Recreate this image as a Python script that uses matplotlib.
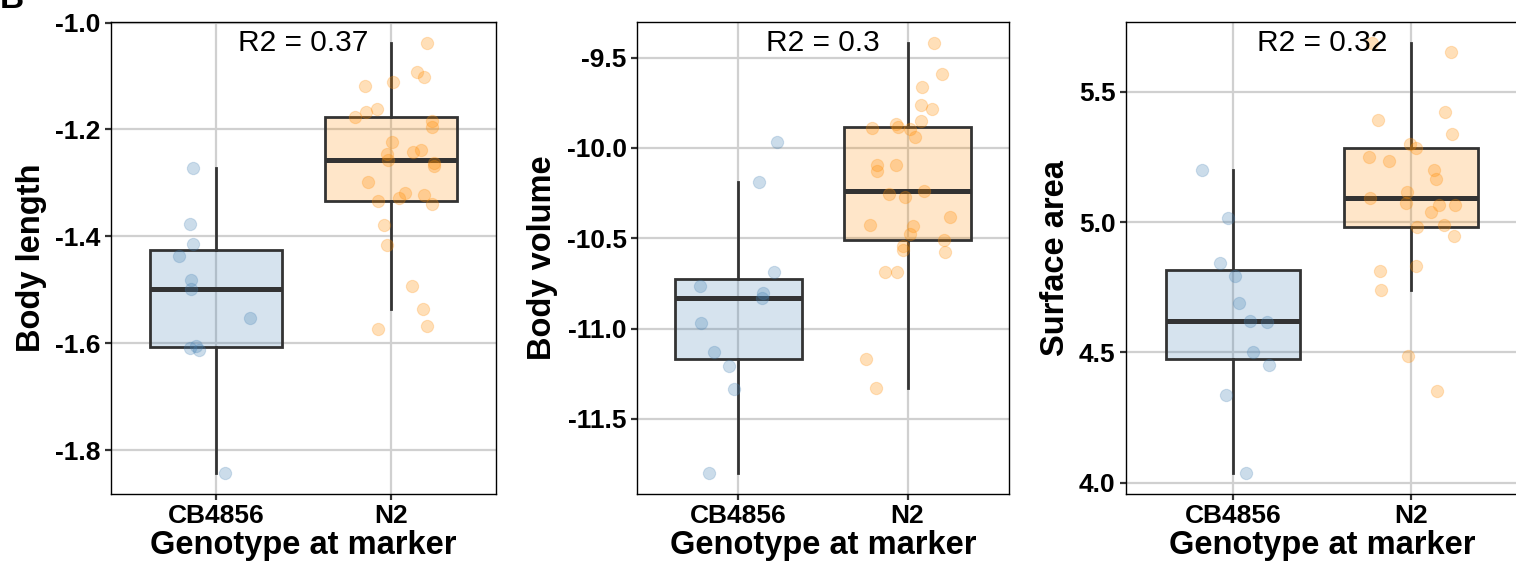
import numpy as np
import matplotlib
matplotlib.use("Agg")
import matplotlib.pyplot as plt

plt.rcParams['font.family'] = ['Liberation Sans', 'DejaVu Sans']
plt.rcParams['axes.unicode_minus'] = False

genotypes = ["CB4856", "N2"]

# Body length
bl_cb = [-1.273, -1.376, -1.414, -1.437, -1.482, -1.498, -1.552, -1.608, -1.605, -1.613, -1.842]
bl_cb_jit = [-0.133, -0.146, -0.129, -0.209, -0.142, -0.142, 0.192, -0.146, -0.114, -0.097, 0.051]
bl_n2 = [-1.039, -1.092, -1.101, -1.111, -1.119, -1.161, -1.167, -1.177, -1.185, -1.195,
         -1.224, -1.239, -1.243, -1.245, -1.258, -1.262, -1.268, -1.299, -1.318, -1.329,
         -1.322, -1.333, -1.340, -1.378, -1.416, -1.493, -1.536, -1.568, -1.573]
bl_n2_jit = [0.203, 0.150, 0.188, 0.009, -0.150, -0.080, -0.142, -0.203, 0.237, 0.237,
             0.006, 0.171, 0.125, -0.023, -0.017, 0.243, 0.247, -0.133, 0.080, 0.047,
             0.188, -0.074, 0.237, -0.038, -0.023, 0.121, 0.182, 0.203, -0.074]
bl_ticks = [-1.8, -1.6, -1.4, -1.2, -1.0]

# Body volume
bv_cb = [-9.968, -10.191, -10.687, -10.765, -10.803, -10.831, -10.970, -11.129, -11.209, -11.335, -11.797]
bv_cb_jit = [0.229, 0.124, 0.211, -0.227, 0.148, 0.142, -0.223, -0.142, -0.055, -0.026, -0.174]
bv_n2 = [-9.422, -9.592, -9.663, -9.765, -9.787, -9.853, -9.867, -9.882, -9.892, -9.898,
         -9.942, -10.094, -10.092, -10.129, -10.241, -10.257, -10.273, -10.380, -10.426, -10.430,
         -10.476, -10.510, -10.542, -10.566, -10.576, -10.687, -10.687, -11.171, -11.331]
bv_n2_jit = [0.158, 0.203, 0.085, 0.081, 0.144, 0.081, -0.067, -0.059, -0.209, 0.016,
             0.047, -0.181, -0.071, -0.181, 0.095, -0.107, -0.014, 0.249, -0.223, 0.030,
             0.016, 0.213, -0.024, -0.024, 0.219, -0.134, -0.063, -0.247, -0.185]
bv_ticks = [-11.5, -11.0, -10.5, -10.0, -9.5]

# Surface area
sa_cb = [5.201, 5.014, 4.843, 4.792, 4.690, 4.621, 4.615, 4.500, 4.450, 4.337, 4.039]
sa_cb_jit = [-0.176, -0.028, -0.070, 0.009, 0.033, 0.098, 0.189, 0.113, 0.202, -0.041, 0.076]
sa_n2 = [5.685, 5.654, 5.423, 5.390, 5.336, 5.300, 5.284, 5.248, 5.233, 5.199,
         5.165, 5.116, 5.091, 5.073, 5.067, 5.067, 5.037, 4.982, 4.988, 4.946,
         4.832, 4.813, 4.739, 4.487, 4.351]
sa_n2_jit = [-0.222, 0.226, 0.193, -0.187, 0.228, -0.004, 0.030, -0.235, -0.124, 0.130,
             0.139, -0.022, -0.228, -0.026, 0.159, 0.246, 0.109, 0.031, 0.185, 0.243,
             0.030, -0.174, -0.167, -0.019, 0.144]
sa_ticks = [4.0, 4.5, 5.0, 5.5]

panels = [
    ("Body length", bl_cb, bl_cb_jit, bl_n2, bl_n2_jit, bl_ticks, "R2 = 0.37"),
    ("Body volume", bv_cb, bv_cb_jit, bv_n2, bv_n2_jit, bv_ticks, "R2 = 0.3"),
    ("Surface area", sa_cb, sa_cb_jit, sa_n2, sa_n2_jit, sa_ticks, "R2 = 0.32"),
]

W, H = 1516, 570
# axes boxes in pixels: left, right, top, bottom
boxes = [(111, 496, 22, 494), (637, 1009, 22, 494), (1126, 1518, 22, 494)]

box_cols = [(70/255, 130/255, 180/255, 0.22), (1.0, 140/255, 0.0, 0.21)]
pt_cols = [(70/255, 130/255, 180/255, 0.28), (1.0, 140/255, 0.0, 0.28)]
pt_edges = [(70/255, 130/255, 180/255, 0.22), (1.0, 140/255, 0.0, 0.22)]
dark = "#333333"
grid_col = "#d0d0d0"

fig = plt.figure(figsize=(W / 100, H / 100), dpi=100)

for (ylab, cb, cbj, n2, n2j, ticks, r2), (l, r, t, b) in zip(panels, boxes):
    ax = fig.add_axes([l / W, (H - b) / H, (r - l) / W, (b - t) / H])
    groups = [np.array(cb), np.array(n2)]
    jits = [np.array(cbj), np.array(n2j)]

    bp = ax.boxplot(groups, positions=[1, 2], widths=0.75, patch_artist=True,
                    showfliers=False, whis=1.5, zorder=2,
                    boxprops=dict(edgecolor=dark, linewidth=2.0),
                    medianprops=dict(color=dark, linewidth=3.6, solid_capstyle='butt'),
                    whiskerprops=dict(color=dark, linewidth=2.0),
                    capprops=dict(linewidth=0))
    for patch, c in zip(bp['boxes'], box_cols):
        patch.set_facecolor(c)

    for i, (vals, jj) in enumerate(zip(groups, jits)):
        ax.scatter(i + 1 + jj, vals, s=78, color=pt_cols[i], edgecolors=pt_edges[i],
                   linewidths=0.8, zorder=3)

    allv = np.concatenate(groups)
    lo, hi = allv.min(), allv.max()
    pad = (hi - lo) * 0.05
    ax.set_ylim(lo - pad, hi + pad)
    ax.set_xlim(0.4, 2.6)
    ax.set_yticks(ticks)
    ax.set_yticklabels(["%.1f" % v for v in ticks])
    ax.set_xticks([1, 2])
    ax.set_xticklabels(genotypes)

    ax.grid(True, color=grid_col, linewidth=1.6, zorder=0)
    ax.set_axisbelow(True)
    for sp in ax.spines.values():
        sp.set_color("black")
        sp.set_linewidth(1.0)
    ax.tick_params(length=4.5, width=1.6, color=dark, pad=3, labelsize=19)
    for lab in ax.get_xticklabels() + ax.get_yticklabels():
        lab.set_fontweight('bold')

    ax.set_ylabel(ylab, fontsize=23.5, fontweight='bold', labelpad=6)
    ax.set_xlabel("Genotype at marker", fontsize=23.5, fontweight='bold', labelpad=1)
    ax.text(1.5, hi, r2, ha='center', va='center', fontsize=21.5, zorder=4)

fig.text(0.0, 1.0, "B", fontsize=24, fontweight='bold', ha='left', va='center')

fig.savefig("out.png", dpi=100)
